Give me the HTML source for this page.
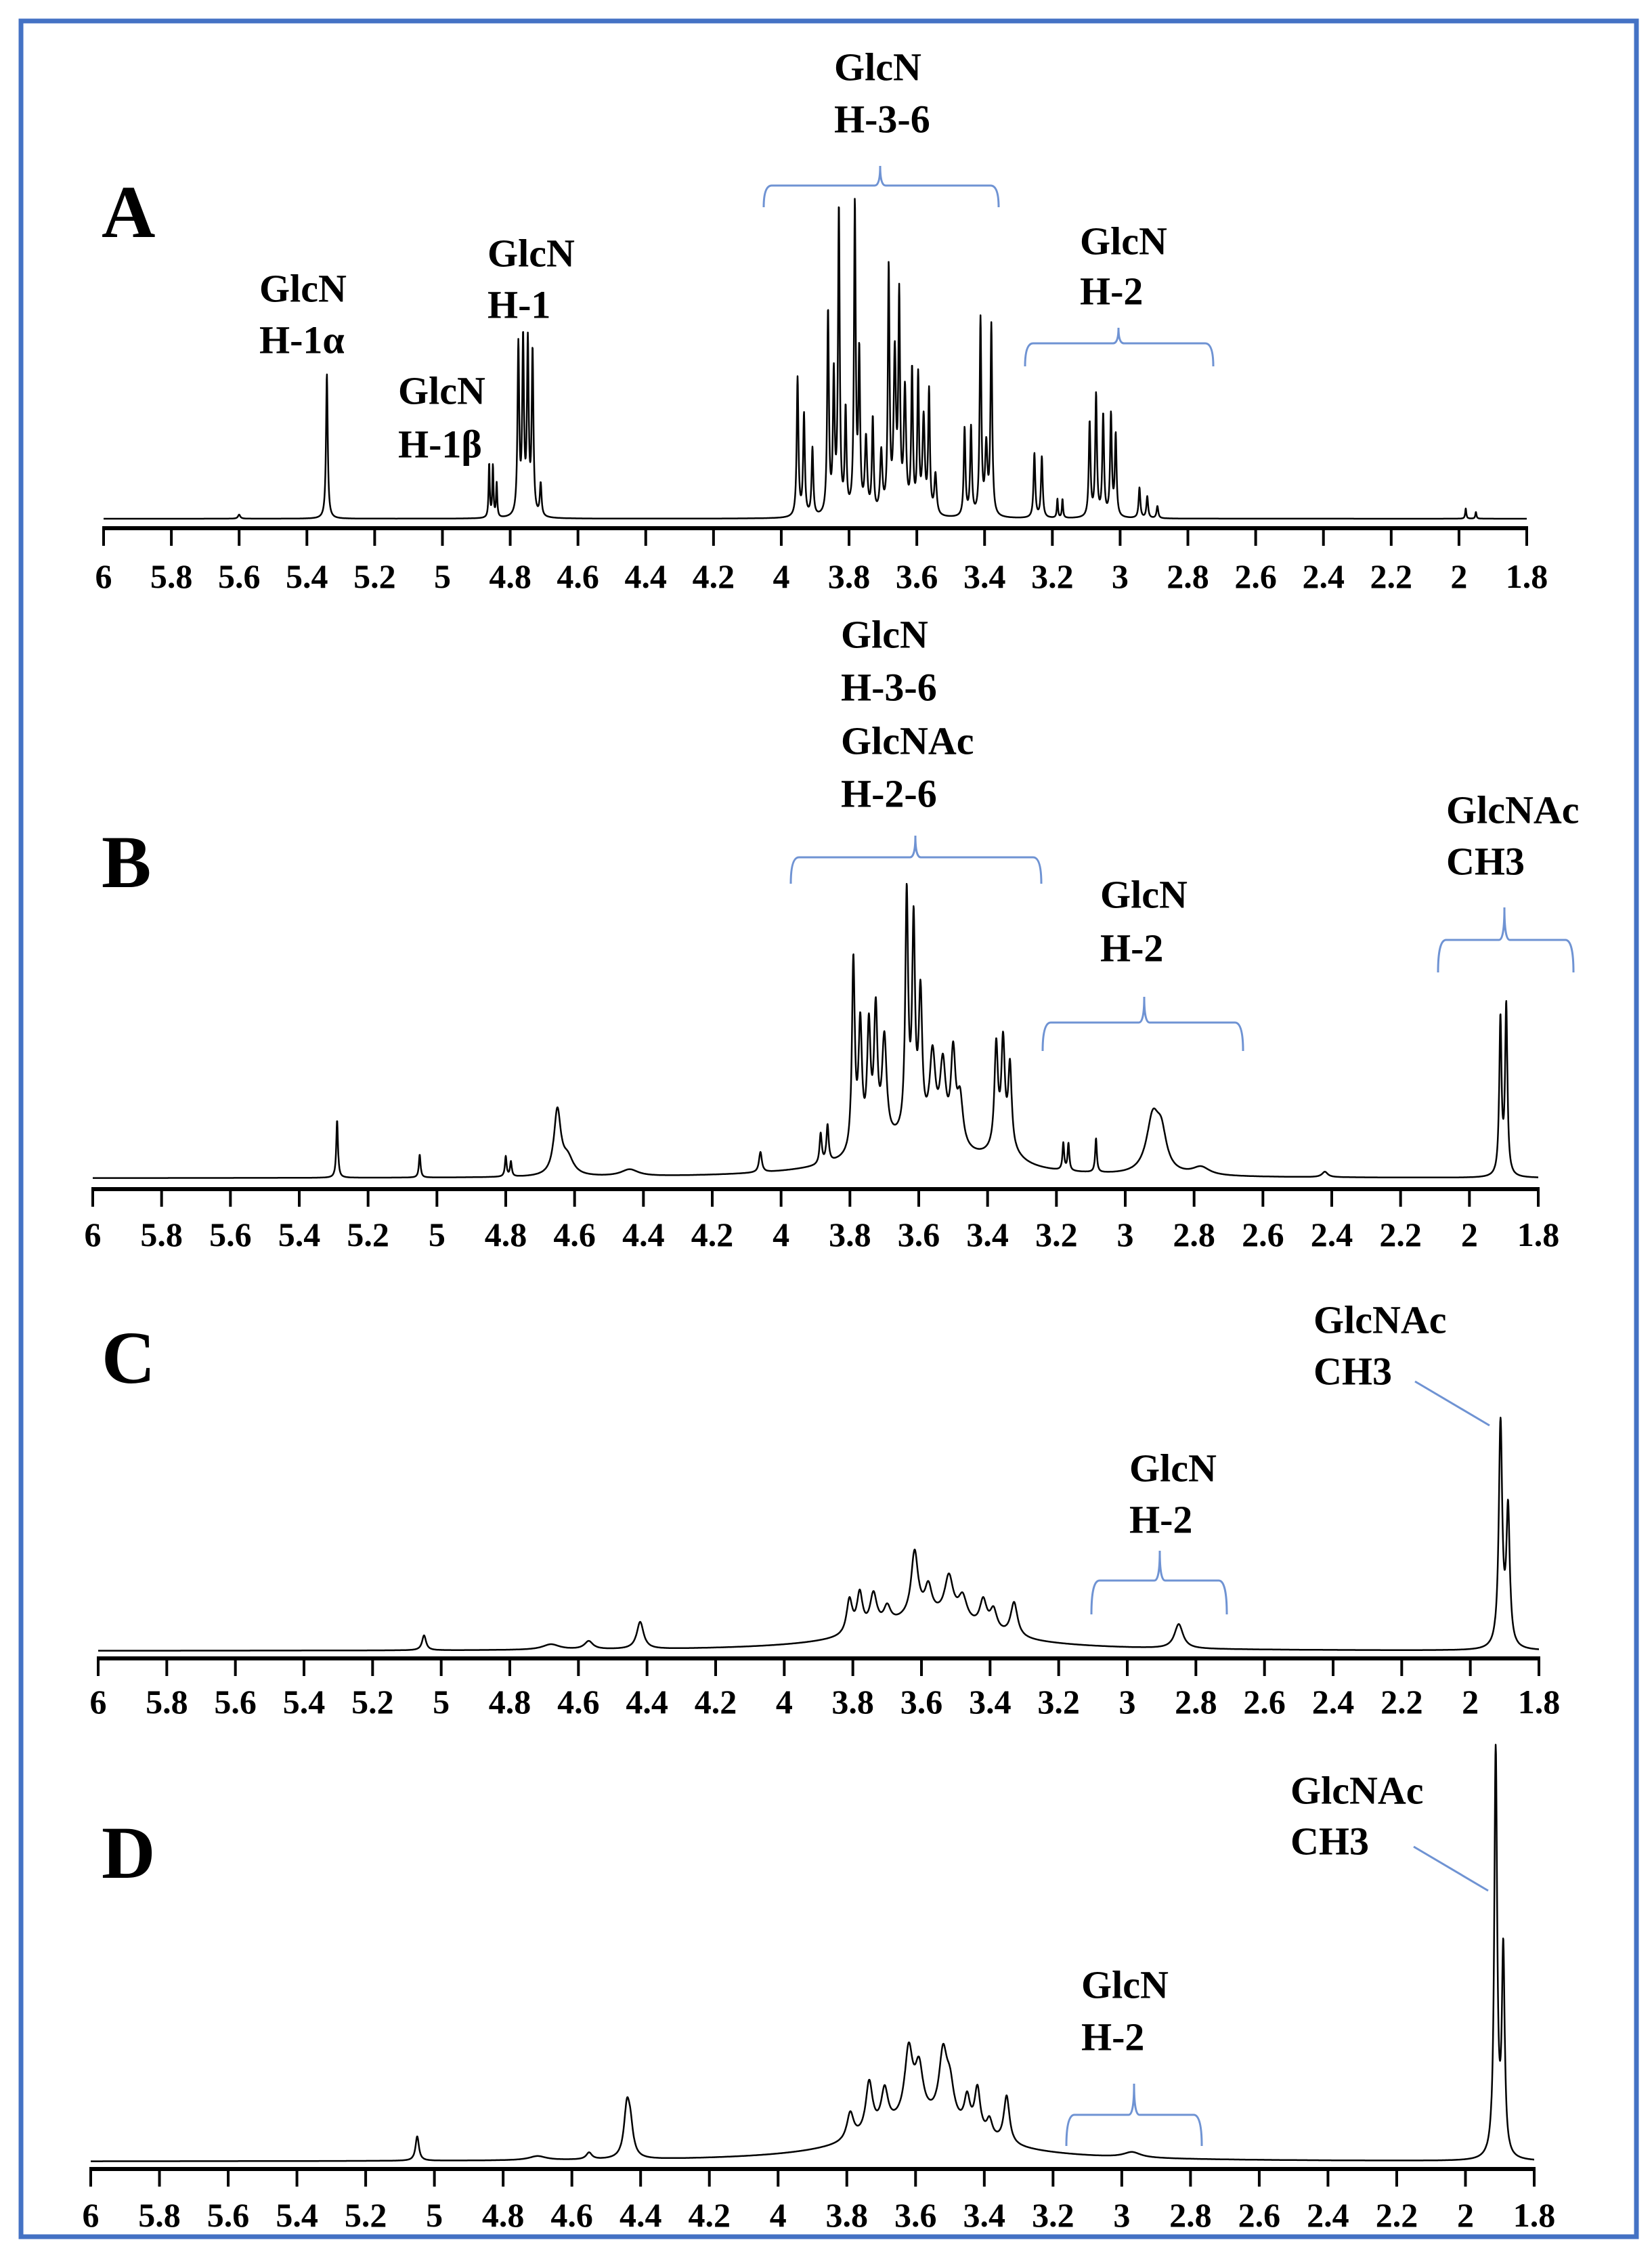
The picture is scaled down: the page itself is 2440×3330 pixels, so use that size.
<!DOCTYPE html>
<html><head><meta charset="utf-8"><title>1H NMR spectra A-D</title>
<style>html,body{margin:0;padding:0;background:#fff}svg{display:block}
text{font-family:"Liberation Serif",serif;font-weight:bold;fill:#000}</style></head>
<body>
<svg id="fig" width="2440" height="3330" viewBox="0 0 2440 3330" xmlns="http://www.w3.org/2000/svg">
<rect x="0" y="0" width="2440" height="3330" fill="#fff"/>
<rect x="31" y="31" width="2386" height="3272" fill="none" stroke="#4472C4" stroke-width="7"/>
<g id="plots"></g>
</svg>
<script>
// tick labels
const tickLabels = ["6","5.8","5.6","5.4","5.2","5","4.8","4.6","4.4","4.2","4","3.8","3.6","3.4","3.2","3","2.8","2.6","2.4","2.2","2","1.8"];
// Panel A peaks (ppm, intensity, half-width ppm)
const peakPpmA = [5.341,4.862,4.851,4.840,4.776,4.762,4.748,4.734,4.71,3.952,3.933,3.908,3.862,3.845,3.830,3.810,3.783,3.770,3.750,3.730,3.705,3.683,3.665,3.652,3.635,3.614,3.596,3.580,3.564,3.545,3.459,3.440,3.412,3.395,3.380,3.253,3.231,3.185,3.170,3.090,3.071,3.050,3.027,3.013,2.943,2.920,2.890,1.98,1.95,5.60];
const peakHeightA = [214,80,76,50,250,255,250,240,48,205,150,100,300,200,450,150,455,230,110,140,90,360,230,310,180,210,200,140,180,60,130,130,290,100,280,95,90,28,28,140,180,150,150,120,45,32,18,15,10,6];
const peakWidthA = [0.003,0.002,0.002,0.002,0.003,0.003,0.003,0.003,0.003,0.003,0.003,0.003,0.003,0.003,0.003,0.003,0.003,0.003,0.004,0.003,0.004,0.003,0.004,0.003,0.004,0.003,0.003,0.004,0.003,0.004,0.003,0.003,0.003,0.004,0.003,0.003,0.003,0.002,0.002,0.003,0.003,0.003,0.003,0.003,0.003,0.003,0.003,0.002,0.002,0.004];
// Panel B peaks
const peakPpmB = [5.29,5.05,4.80,4.785,4.65,4.62,4.44,4.06,3.885,3.865,3.79,3.77,3.745,3.725,3.70,3.635,3.615,3.595,3.56,3.53,3.50,3.48,3.375,3.355,3.335,3.18,3.165,3.085,2.92,2.895,2.78,2.42,1.91,1.893,3.62,3.35];
const peakHeightB = [85,34,30,22,95,25,10,30,45,55,280,180,170,190,150,350,300,200,120,110,130,70,150,150,120,40,40,50,80,50,12,8,230,250,55,25];
const peakWidthB = [0.003,0.003,0.003,0.003,0.012,0.02,0.03,0.005,0.004,0.004,0.005,0.006,0.006,0.006,0.008,0.005,0.005,0.006,0.01,0.01,0.008,0.01,0.006,0.006,0.006,0.003,0.003,0.003,0.022,0.018,0.03,0.01,0.004,0.004,0.18,0.05];
// Panel C peaks
const peakPpmC = [5.05,4.68,4.57,4.42,3.81,3.78,3.74,3.70,3.62,3.58,3.52,3.48,3.42,3.39,3.33,3.58,2.85,1.912,1.89];
const peakHeightC = [22,8,12,40,50,55,50,25,95,40,60,35,40,30,50,50,36,330,200];
const peakWidthC = [0.007,0.03,0.015,0.012,0.01,0.01,0.012,0.012,0.012,0.012,0.015,0.015,0.012,0.012,0.012,0.2,0.015,0.006,0.006];
// Panel D peaks
const peakPpmD = [5.05,4.70,4.55,4.44,4.43,3.79,3.735,3.69,3.62,3.59,3.52,3.50,3.45,3.42,3.385,3.335,3.58,2.97,1.912,1.89];
const peakHeightD = [36,6,10,70,40,40,75,55,100,70,95,50,45,65,25,70,60,8,600,300];
const peakWidthD = [0.006,0.03,0.01,0.01,0.01,0.012,0.012,0.012,0.014,0.014,0.014,0.014,0.01,0.01,0.01,0.01,0.2,0.03,0.005,0.005];

const NS="http://www.w3.org/2000/svg";
const root=document.getElementById('plots');
function mk(tag,attrs,parent){const e=document.createElementNS(NS,tag);for(const k in attrs)e.setAttribute(k,attrs[k]);(parent||root).appendChild(e);return e;}

const panels=[
 {id:'a',x6:153,x18:2255,axisY:780,base:766,labY:868,P:peakPpmA,H:peakHeightA,W:peakWidthA},
 {id:'b',x6:137,x18:2272,axisY:1756,base:1740,labY:1840,P:peakPpmB,H:peakHeightB,W:peakWidthB},
 {id:'c',x6:145,x18:2273,axisY:2449,base:2438,labY:2530,P:peakPpmC,H:peakHeightC,W:peakWidthC},
 {id:'d',x6:134,x18:2266,axisY:3203,base:3192,labY:3288,P:peakPpmD,H:peakHeightD,W:peakWidthD}
];
panels.forEach(p=>{
 const g=mk('g',{});
 
 
 const xs=v=>p.x6+(6-v)*(p.x18-p.x6)/4.2;
 const ys=v=>p.base-v;
 let d='';
 for(let v=6;v>=1.8;v-=0.0008){
  let s=0;for(let i=0;i<p.P.length;i++){const w=p.W[i],dd=v-p.P[i];s+=p.H[i]*w*w/(dd*dd+w*w);}
  d+=(d?'L':'M')+xs(v).toFixed(1)+','+ys(s).toFixed(1);
 }
 const path=mk('path',{d:d,fill:'none',stroke:'#000','stroke-width':2.5,'stroke-linejoin':'round'},g);
 
 
 const ax=mk('line',{x1:xs(6)-2,x2:xs(1.8)+2,y1:p.axisY,y2:p.axisY,stroke:'#000','stroke-width':6},g);
 
 
 tickLabels.forEach(t=>{
  const v=parseFloat(t);
  const tk=mk('line',{x1:xs(v),x2:xs(v),y1:p.axisY,y2:p.axisY+26,stroke:'#000','stroke-width':4},g);
  
  
  const tl=mk('text',{x:xs(v),y:p.labY,'text-anchor':'middle','font-size':50},g);
  tl.textContent=t;
  
  
 });
});

// annotations
function label(lines,x,ys,name){
 lines.forEach((t,i)=>{const e=mk('text',{x:x,y:ys[i],'font-size':58,'dominant-baseline':'central'});e.textContent=t;
 
 });
}
function bracket(x1,x2,yt,ye,tip,xc,name){
 const d=`M${x1},${ye} Q${x1},${yt} ${x1+12},${yt} L${xc-8},${yt} Q${xc},${yt} ${xc},${tip} Q${xc},${yt} ${xc+8},${yt} L${x2-12},${yt} Q${x2},${yt} ${x2},${ye}`;
 const e=mk('path',{d:d,fill:'none',stroke:'#6F93D3','stroke-width':3});
 
 
}
function leader(x1,y1,x2,y2,name){const e=mk('line',{x1,y1,x2,y2,stroke:'#6F93D3','stroke-width':3});
 
 }
function letter(t,x,y){const e=mk('text',{x:x,y:y,'font-size':110});e.textContent=t;
 
 }

letter('A',150,350);letter('B',150,1310);letter('C',150,2042);letter('D',150,2773);
label(['GlcN','H-1α'],383,[426,502],'label-h1-alpha');
label(['GlcN','H-1β'],588,[577,656],'label-h1-beta');
label(['GlcN','H-1'],720,[374,450],'label-h1');
label(['GlcN','H-3-6'],1232,[99,176],'label-h3-6-a');
label(['GlcN','H-2'],1595,[356,430],'label-h2-a');
bracket(1128,1475,274,306,245,1300,'bracket-h3-6-a');
bracket(1514,1792,507,541,484,1652,'bracket-h2-a');
label(['GlcN','H-3-6','GlcNAc','H-2-6'],1242,[937,1015,1094,1172],'label-h3-6-b');
bracket(1168,1538,1266,1305,1234,1352,'bracket-h3-6-b');
label(['GlcN','H-2'],1625,[1321,1400],'label-h2-b');
bracket(1540,1836,1510,1552,1472,1690,'bracket-h2-b');
label(['GlcNAc','CH3'],2136,[1196,1272],'label-ch3-b');
bracket(2124,2324,1388,1436,1340,2222,'bracket-ch3-b');
label(['GlcNAc','CH3'],1940,[1949,2025],'label-ch3-c');
leader(2090,2040,2200,2105,'leader-ch3-c');
label(['GlcN','H-2'],1668,[2168,2244],'label-h2-c');
bracket(1612,1812,2334,2384,2290,1713,'bracket-h2-c');
label(['GlcNAc','CH3'],1906,[2644,2719],'label-ch3-d');
leader(2088,2727,2198,2792,'leader-ch3-d');
label(['GlcN','H-2'],1597,[2931,3008],'label-h2-d');
bracket(1575,1775,3123,3169,3077,1675,'bracket-h2-d');
</script>
</body></html>
